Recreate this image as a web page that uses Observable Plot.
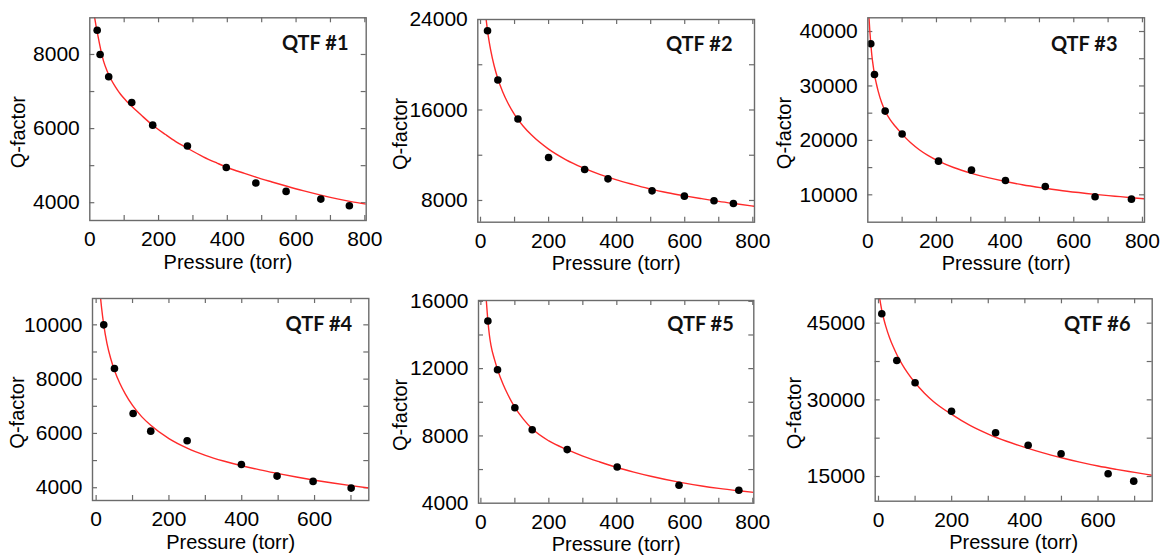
<!DOCTYPE html>
<html><head><meta charset="utf-8">
<script src="https://cdn.jsdelivr.net/npm/d3@7"></script>
<script src="https://cdn.jsdelivr.net/npm/@observablehq/plot@0.6"></script>
<style>
html,body{margin:0;padding:0;background:#fff}
body{width:1168px;height:556px;position:relative;overflow:hidden}
.panel{position:absolute}
</style></head><body>
<div id="p1" class="panel"></div><div id="p2" class="panel"></div><div id="p3" class="panel"></div>
<div id="p4" class="panel"></div><div id="p5" class="panel"></div><div id="p6" class="panel"></div>
<script>
// ---- data ----
const names = ["QTF #1", "QTF #2", "QTF #3", "QTF #4", "QTF #5", "QTF #6"];
const xLabel = "Pressure (torr)";
const yLabel = "Q-factor";

const pressure1 = [21.5, 30, 55, 122, 183, 284, 397, 483, 571, 672, 755];
const q1 = [8655, 8000, 7400, 6706, 6093, 5530, 4952, 4530, 4305, 4098, 3918];
const fitP1 = [14,18,22,27,33,40,50,60,75,90,105,122,150,183,220,250,284,330,370,400,450,483,530,571,620,672,720,760,804];
const fitQ1 = [9000,8780,8580,8345,8080,7820,7560,7360,7120,6920,6760,6600,6360,6090,5840,5650,5470,5240,5070,4950,4790,4690,4560,4450,4325,4205,4105,4030,3960];

const pressure2 = [20.6, 51, 110, 200, 306, 374.5, 504, 599, 686, 743];
const q2 = [23000, 18650, 15200, 11800, 10735, 9912, 8853, 8382, 7970, 7735];
const fitP2 = [16.5,20,25,30,40,50,65,80,100,125,150,200,250,300,350,400,450,500,550,600,650,700,750,805];
const fitQ2 = [24000,23130,22110,21270,19910,18850,17610,16640,15600,14590,13780,12540,11620,10900,10310,9820,9400,9000,8680,8410,8160,7920,7710,7490];

const pressure3 = [8.7, 19.5, 50.6, 100, 206, 302, 401, 517, 662, 768];
const q3 = [37740, 32100, 25380, 21180, 16185, 14532, 12633, 11531, 9633, 9204];
const fitP3 = [3.5,6,8.7,12,15,19.5,25,30,40,50.6,65,80,100,125,150,175,206,250,302,350,401,450,517,580,662,720,768,806];
const fitQ3 = [42500,40000,37800,35500,34000,32100,30400,29100,27000,25400,23800,22600,21150,19550,18280,17240,16190,15020,13950,13150,12440,11850,11200,10650,10090,9750,9470,9270];

const pressure4 = [20.9, 50.3, 101.6, 150, 250, 399, 497, 596, 700.5];
const q4 = [10000, 8392, 6735, 6084, 5730, 4858, 4428, 4233, 3986];
const fitP4 = [12,15,20.9,30,40,50,65,80,100,125,150,200,250,300,350,400,450,500,550,600,650,700,749];
const fitQ4 = [11000,10620,10000,9300,8760,8340,7850,7460,7030,6620,6300,5810,5460,5195,4985,4810,4660,4525,4395,4278,4173,4078,3990];

const pressure5 = [20.6, 49, 100, 151, 254, 401, 583, 759];
const q5 = [14827, 11935, 9673, 8363, 7187, 6156, 5065, 4768];
const fitP5 = [16,20.6,25,30,40,49,65,80,100,125,151,200,254,300,350,401,450,500,583,650,700,759,803];
const fitQ5 = [16050,14850,14000,13350,12550,11950,11080,10430,9700,9000,8420,7700,7180,6800,6450,6120,5850,5600,5250,5020,4880,4740,4645];

const pressure6 = [9, 50, 100, 199.5, 320, 409, 499, 627.5, 697.5];
const q6 = [46840, 37700, 33340, 27780, 23560, 21130, 19450, 15530, 14090];
const fitP6 = [3.4,6,9,15,20,30,40,50,65,80,100,125,150,200,250,300,350,400,450,500,550,600,650,700,748];
const fitQ6 = [49800,48660,47500,45680,44380,42210,40420,38880,36910,35230,33340,31360,29690,27150,25000,23300,21900,20700,19620,18680,17820,17053,16400,15800,15230];

const xTicks1 = [0,200,400,600,800], xMinor1 = [100,300,500,700];
const xTicks4 = [0,200,400,600], xMinor4 = [100,300,500,700];
const yTicks1 = [4000,6000,8000], yMinor1 = [5000,7000];
const yTicks2 = [8000,16000,24000], yMinor2 = [12000,20000];
const yTicks3 = [10000,20000,30000,40000], yMinor3 = [15000,25000,35000];
const yTicks4 = [4000,6000,8000,10000], yMinor4 = [5000,7000,9000];
const yTicks5 = [4000,8000,12000,16000], yMinor5 = [6000,10000,14000];
const yTicks6 = [15000,30000,45000], yMinor6 = [22500,37500];

// ---- layout ----
const panels = [
  {id:"p1", name:names[0], p:pressure1, q:q1, fp:fitP1, fq:fitQ1, xt:xTicks1, xm:xMinor1, yt:yTicks1, ym:yMinor1,
   xd:[0,804], yd:[3520,8990], box:[0,0,385,280], frame:[89.3,365.7,17.3,220], tag:[17.7,17.7], yl:71},
  {id:"p2", name:names[1], p:pressure2, q:q2, fp:fitP2, fq:fitQ2, xt:xTicks1, xm:xMinor1, yt:yTicks2, ym:yMinor2,
   xd:[-8,805], yd:[6080,24000], box:[385,0,390,280], frame:[477.3,754,19,221.7], tag:[22,17], yl:77},
  {id:"p3", name:names[2], p:pressure3, q:q3, fp:fitP3, fq:fitQ3, xt:xTicks1, xm:xMinor1, yt:yTicks3, ym:yMinor3,
   xd:[0,806], yd:[4970,42520], box:[775,0,393,280], frame:[867.3,1144,17.3,221.7], tag:[27,19.4], yl:83},
  {id:"p4", name:names[3], p:pressure4, q:q4, fp:fitP4, fq:fitQ4, xt:xTicks4, xm:xMinor4, yt:yTicks4, ym:yMinor4,
   xd:[-10,749], yd:[3530,10970], box:[0,280,385,276], frame:[92,368.3,298,500], tag:[16.6,18.7], yl:75.3},
  {id:"p5", name:names[4], p:pressure5, q:q5, fp:fitP5, fq:fitQ5, xt:xTicks1, xm:xMinor1, yt:yTicks5, ym:yMinor5,
   xd:[-7,803], yd:[4000,16050], box:[385,280,390,276], frame:[478,753.3,300,502.7], tag:[20,16], yl:78},
  {id:"p6", name:names[5], p:pressure6, q:q6, fp:fitP6, fq:fitQ6, xt:xTicks4, xm:xMinor4, yt:yTicks6, ym:yMinor6,
   xd:[-9,748], yd:[10170,49770], box:[775,280,393,276], frame:[874.7,1151.7,298.3,500.7], tag:[21.7,17.7], yl:80.7}
];

const FRAME = "#6b6b6b", RED = "#ff2a2a", TICK = 5;
const fmt = d3.format("d");

for (const c of panels) {
  const [bx, by, bw, bh] = c.box;
  const [fl, fr, ft, fb] = c.frame;
  const fw = fr - fl, fh = fb - ft;
  const pts = c.p.map((p, i) => ({p, q: c.q[i]}));
  const fit = c.fp.map((p, i) => ({p, q: c.fq[i]}));
  const xAll = c.xt.concat(c.xm).filter(v => v > c.xd[0] && v < c.xd[1]);
  const yAll = c.yt.concat(c.ym).filter(v => v > c.yd[0] && v < c.yd[1]);
  const chart = Plot.plot({
    width: bw, height: bh,
    marginLeft: fl - bx, marginRight: bx + bw - fr, marginTop: ft - by, marginBottom: by + bh - fb,
    style: {fontFamily: "'Liberation Sans', Arial, sans-serif", fontSize: "21px", color: "#000", background: "transparent", overflow: "visible"},
    x: {domain: c.xd},
    y: {domain: c.yd},
    marks: [
      Plot.tickX(xAll, {insetTop: fh - TICK, stroke: FRAME, strokeWidth: 1.2}),
      Plot.tickX(xAll, {insetBottom: fh - TICK, stroke: FRAME, strokeWidth: 1.2}),
      Plot.tickY(yAll, {insetRight: fw - TICK, stroke: FRAME, strokeWidth: 1.2}),
      Plot.tickY(yAll, {insetLeft: fw - TICK, stroke: FRAME, strokeWidth: 1.2}),
      Plot.axisX({ticks: c.xt, tickSize: 0, tickPadding: 11, tickFormat: fmt, label: null}),
      Plot.axisY({ticks: c.yt, tickSize: 0, tickPadding: 10, tickFormat: fmt, label: null}),
      Plot.text([xLabel], {text: d => d, frameAnchor: "bottom", textAnchor: "middle", lineAnchor: "top", dy: 34, fontSize: 20, fill: "#000"}),
      Plot.text([yLabel], {text: d => d, frameAnchor: "left", textAnchor: "middle", lineAnchor: "middle", rotate: -90, dx: -c.yl, dy: 13, fontSize: 20, fill: "#000"}),
      Plot.line(fit, {x: "p", y: "q", stroke: RED, strokeWidth: 1.4, curve: "monotone-x", clip: true}),
      Plot.dot(pts, {x: "p", y: "q", r: 3.8, fill: "#000", stroke: "none"}),
      Plot.text([c.name], {text: d => d, frameAnchor: "top-right", textAnchor: "end", lineAnchor: "top",
        dx: -c.tag[0], dy: c.tag[1], fontFamily: "Lato, 'Open Sans', sans-serif", fontWeight: "bold", fontSize: 20, fill: "#111"}),
      Plot.frame({stroke: FRAME, strokeWidth: 1.4})
    ]
  });
  const el = document.getElementById(c.id);
  el.style.left = bx + "px"; el.style.top = by + "px";
  el.appendChild(chart);
}
</script>
</body></html>
